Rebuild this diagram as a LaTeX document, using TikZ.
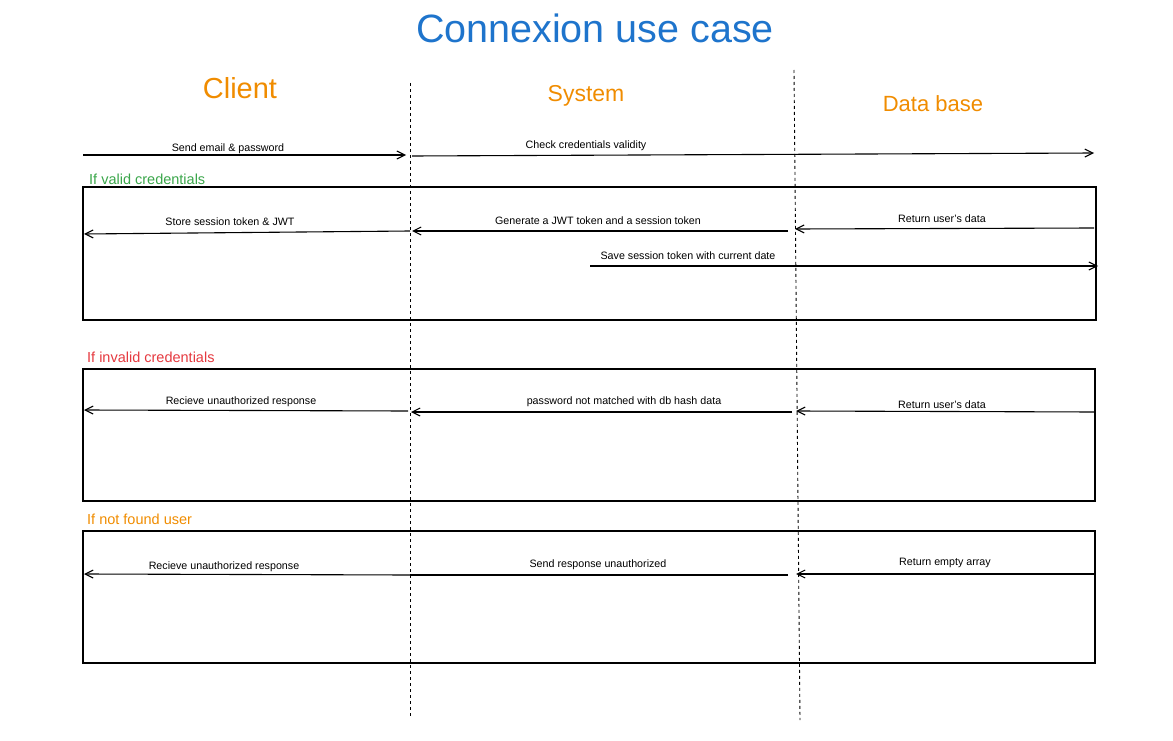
\documentclass[tikz,border=0pt]{standalone}
\usepackage{fontspec}
\setmainfont{Liberation Sans}
\usetikzlibrary{arrows.meta}
\definecolor{titleblue}{HTML}{1E74CC}
\definecolor{actororange}{HTML}{F08C00}
\definecolor{validgreen}{HTML}{3AA64A}
\definecolor{invalidred}{HTML}{E5393F}
\newcommand{\fsz}[1]{\fontsize{#1}{#1}\selectfont}
\begin{document}
\begin{tikzpicture}[x=1pt, y=-1pt,
		msg/.style={line width=1.1pt, -{Straight Barb[length=8pt, width=8pt, line width=1.1pt]}},
		msgline/.style={line width=1.1pt},
		lbl/.style={inner sep=0pt, font=\fsz{10.7}},
		actor/.style={inner sep=0pt, text=actororange},
		cond/.style={inner sep=0pt, anchor=west, font=\fsz{14.5}},
		frame/.style={line width=1.1pt},
		life/.style={line width=0.9pt, dash pattern=on 3pt off 3pt}]
		\useasboundingbox (0,0) rectangle (1173,741);
		% title and actors
		\node[inner sep=0pt, text=titleblue, font=\fsz{39.5}] (title) at (595,28) {Connexion use case};
		\node[actor, font=\fsz{29}] (client) at (240,88) {Client};
		\node[actor, font=\fsz{23}] (system) at (586,96) {System};
		\node[actor, font=\fsz{22}] (db) at (933,104) {Data base};
		
		% lifelines
		\coordinate (sys top) at (410,83);
		\coordinate (sys bot) at (410,718);
		\coordinate (db top) at (794,70);
		\coordinate (db bot) at (800,720);
		\draw[life] (sys top) -- (sys bot);
		\draw[life] (db top) -- (db bot);
		
		% request
		\coordinate (c0) at (83,155);
		\coordinate (s0) at (406,155);
		\coordinate (s0b) at (412,156);
		\coordinate (d0) at (1094,153);
		\draw[msg] (c0) -- (s0);
		\draw[msg] (s0b) -- (d0);
		\node[lbl] (send) at (228,149) {Send email \& password};
		\node[lbl] (check) at (586,146) {Check credentials validity};
		
		% frames
		\foreach \ya/\yb/\xb [count=\f] in {187/320/1096, 369/501/1095, 531/663/1095} {
			\draw[frame] (83,\ya) rectangle (\xb,\yb);
		};
		\node[cond, text=validgreen] (valid) at (89,179.5) {If valid credentials};
		\node[cond, text=invalidred] (invalid) at (87,357.5) {If invalid credentials};
		\node[cond, text=actororange] (notfound) at (87,519.5) {If not found user};
		
		% valid credentials
		\coordinate (s1) at (410,231);
		\coordinate (c1) at (84,234);
		\coordinate (d1a) at (788,231);
		\coordinate (s1b) at (412,231);
		\coordinate (e1) at (1094,228);
		\coordinate (d1b) at (795,229);
		\coordinate (s2) at (590,266);
		\coordinate (e2) at (1098,266);
		\draw[msg] (s1) -- (c1);
		\draw[msg] (d1a) -- (s1b);
		\draw[msg] (e1) -- (d1b);
		\draw[msg] (s2) -- (e2);
		\node[lbl] (store) at (230,222) {Store session token \& JWT};
		\node[lbl] (gen) at (598,221) {Generate a JWT token and a session token};
		\node[lbl] (ret1) at (942,219) {Return user's data};
		\node[lbl] (save) at (688,256) {Save session token with current date};
		
		% invalid credentials
		\coordinate (s3) at (408,411);
		\coordinate (c3) at (84,410);
		\coordinate (d3a) at (792,412);
		\coordinate (s3b) at (411,412);
		\coordinate (e3) at (1095,412);
		\coordinate (d3b) at (796,411);
		\draw[msg] (s3) -- (c3);
		\draw[msg] (d3a) -- (s3b);
		\draw[msg] (e3) -- (d3b);
		\node[lbl] (recv1) at (241,402) {Recieve unauthorized response};
		\node[lbl] (nomatch) at (624,402) {password not matched with db hash data};
		\node[lbl] (ret2) at (942,405) {Return user's data};
		
		% user not found
		\coordinate (s4) at (410,575);
		\coordinate (c4) at (84,574);
		\coordinate (d4a) at (788,575);
		\coordinate (e4) at (1094,574);
		\coordinate (d4b) at (796,574);
		\draw[msg] (s4) -- (c4);
		\draw[msgline] (d4a) -- (s4);
		\draw[msg] (e4) -- (d4b);
		\node[lbl] (recv2) at (224,567) {Recieve unauthorized response};
		\node[lbl] (unauth) at (598,565) {Send response unauthorized};
		\node[lbl] (empty) at (945,563) {Return empty array};
\end{tikzpicture}
\end{document}
